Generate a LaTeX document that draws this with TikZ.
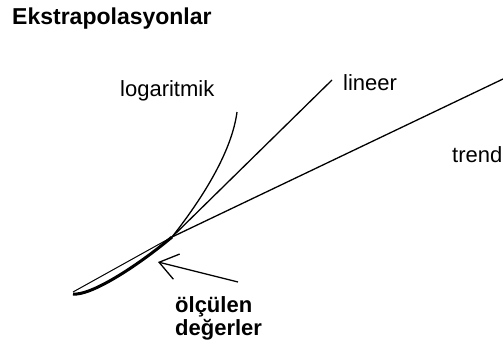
\documentclass[tikz,border=0pt]{standalone}
\usepackage{fontspec}
\setmainfont{Liberation Sans}
\usetikzlibrary{arrows.meta}
\tikzset{
  lbl/.style={font=\fontsize{22}{26}\selectfont,inner sep=0pt,anchor=base west},
  extra/.style={line width=1.3pt},
}

\begin{document}
\begin{tikzpicture}[x=1pt,y=-1pt]
    \useasboundingbox (0,0) rectangle (503,353);
    \node[lbl,font=\fontsize{23}{27}\selectfont\bfseries] (title) at (12,25) {Ekstrapolasyonlar};
    % labels of the three extrapolations
    \foreach \nm/\x/\y/\lab in {logLbl/120/96/logaritmik, linLbl/343/90/lineer, trendLbl/452/162/trend}{
      \node[lbl] (\nm) at (\x,\y) {\lab};
    }
    \node[lbl,font=\fontsize{22}{26}\selectfont\bfseries,align=left,anchor=north west] (meas) at (175,296)
      {ölçülen\\[-3pt]değerler};
    \coordinate (meet) at (172,237);
    \coordinate (dataL) at (73,294);
    \coordinate (logEnd) at (237,112);
    \coordinate (linEnd) at (332,80);
    \coordinate (trendEnd) at (503,79);
    \coordinate (arrTail) at (238,282);
    \coordinate (arrTip) at (158,262);
    % measured values
    \draw[line width=1pt] (dataL) ++(0,-2) -- (meet);
    \draw[line width=3pt] (dataL) .. controls (90,296) and (135,268) .. (meet);
    % extrapolations
    \draw[extra] (meet) .. controls (205,195) and (232,150) .. (logEnd);
    \draw[extra] (meet) -- (linEnd);
    \draw[extra] (meet) -- (trendEnd);
    \draw[extra,-{Straight Barb[length=18pt,width=26pt]}] (arrTail) -- (arrTip);
\end{tikzpicture}
\end{document}
